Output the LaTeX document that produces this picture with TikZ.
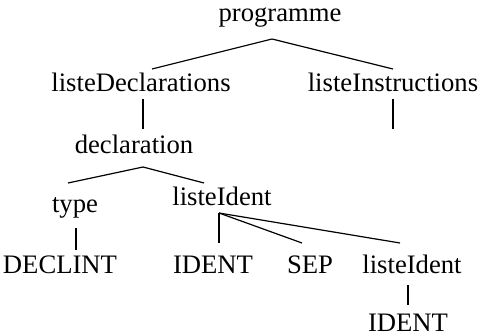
\documentclass[tikz,border=0pt]{standalone}
\usepackage{fontspec}
\setmainfont{Liberation Serif}
\usepackage{tikz}

\begin{document}
\begin{tikzpicture}[x=0.75pt,y=-0.75pt,
    mot/.style={anchor=base, inner sep=0pt, font=\fontsize{20}{24}\selectfont},
    branche/.style={line width=0.9pt}]
\useasboundingbox (0,0) rectangle (482,335);

% Noeuds de l'arbre
\node[mot] (prog) at (280,22) {programme};
\node[mot] (ldecl) at (141,92) {listeDeclarations};
\node[mot] (linstr) at (393,92) {listeInstructions};
\coordinate (vide) at (393,129);
\node[mot] (decl) at (134,153) {declaration};
\node[mot] (type) at (75,212) {type};
\node[mot] (lid) at (222,205) {listeIdent};
\node[mot] (declint) at (60,273) {DECLINT};
\node[mot] (ident) at (213,273) {IDENT};
\node[mot] (sep) at (310,273) {SEP};
\node[mot] (lidb) at (412,273) {listeIdent};
\node[mot] (identb) at (408,331) {IDENT};

% Branches
\draw[branche] ([shift={(11,-23)}]ldecl.base) -- ([shift={(-8,17)}]prog.base)
    -- ([shift={(0,-23)}]linstr.base);
\draw[branche] ([shift={(2,7)}]ldecl.base) -- ([shift={(9,-24)}]decl.base);
\draw[branche] ([shift={(0,7)}]linstr.base) -- (vide);
\draw[branche] ([shift={(-7,-29)}]type.base) -- ([shift={(9,14)}]decl.base)
    -- ([shift={(-18,-22)}]lid.base);
\draw[branche] ([shift={(1,16)}]type.base) -- ([shift={(16,-23)}]declint.base);
\draw[branche] ([shift={(-3,8)}]lid.base) -- ([shift={(6,-30)}]ident.base);
\draw[branche] ([shift={(-3,8)}]lid.base) -- ([shift={(-8,-30)}]sep.base);
\draw[branche] ([shift={(-3,8)}]lid.base) -- ([shift={(-12,-30)}]lidb.base);
\draw[branche] ([shift={(-4,12)}]lidb.base) -- ([shift={(0,-26)}]identb.base);
\end{tikzpicture}
\end{document}
